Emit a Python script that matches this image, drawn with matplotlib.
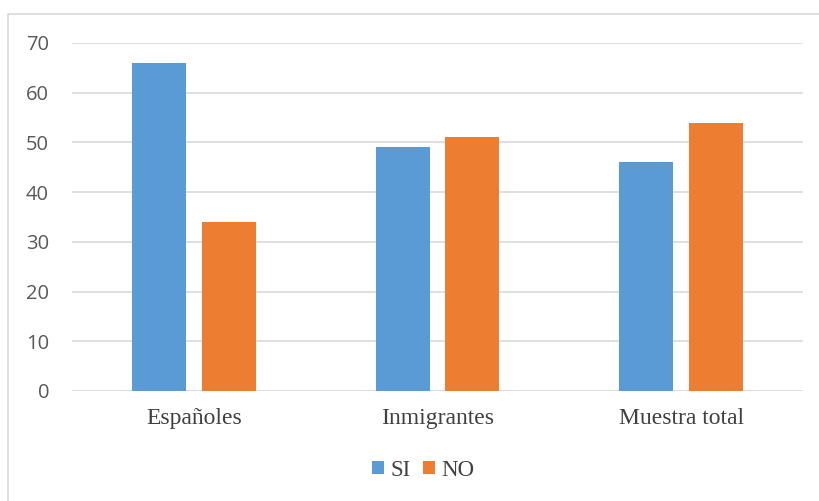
import numpy as np
import matplotlib.pyplot as plt
from matplotlib.patches import Rectangle

categories = ["Españoles", "Inmigrantes", "Muestra total"]
si_values = [66, 49, 46]
no_values = [34, 51, 54]
yticks = [0, 10, 20, 30, 40, 50, 60, 70]

W, H = 819, 501
fig = plt.figure(figsize=(W / 100, H / 100), dpi=100)

# outer chart border (Excel-style)
fig.patches.append(Rectangle((8 / W, -0.01), 1.02, 1 - 14 / H + 0.01,
                             transform=fig.transFigure, fill=False,
                             edgecolor="#D9D9D9", linewidth=1.2))

ax = fig.add_axes([72 / W, 110 / H, (803 - 72) / W, (391 - 43) / H])

x = np.arange(len(categories))
bw = 0.2216
off = 0.1436
ax.bar(x - off, si_values, bw, color="#5B9BD5", label="SI", zorder=3)
ax.bar(x + off, no_values, bw, color="#ED7D31", label="NO", zorder=3)

ax.set_xlim(-0.5, 2.5)
ax.set_ylim(0, 70)
ax.set_yticks(yticks)
ax.yaxis.grid(True, color="#D9D9D9", linewidth=1.2, zorder=0)
ax.set_axisbelow(True)
for s in ax.spines.values():
    s.set_visible(False)
ax.tick_params(axis="both", length=0)
ax.tick_params(axis="y", pad=16.5, labelcolor="#595959")
for lab in ax.get_yticklabels():
    lab.set_family("Open Sans")
    lab.set_fontsize(14.5)

ax.set_xticks(x)
ax.set_xticklabels(categories, family="Liberation Serif", fontsize=17, color="#404040")
ax.tick_params(axis="x", pad=12)

leg = fig.legend(loc="center", bbox_to_anchor=(423.5 / W, 1 - 470 / H), ncol=2,
                 frameon=False, prop={"family": "Liberation Serif", "size": 16.5},
                 handlelength=0.5, handleheight=0.5, handletextpad=0.3,
                 columnspacing=0.55, borderpad=0)
for t in leg.get_texts():
    t.set_color("#404040")

fig.savefig("out.png", dpi=100)
